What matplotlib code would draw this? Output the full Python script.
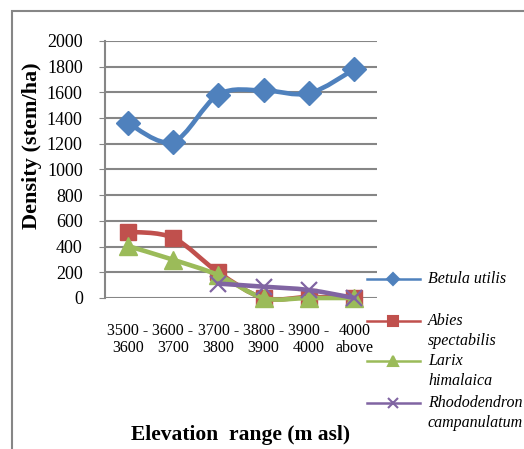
import numpy as np
import matplotlib
matplotlib.use("Agg")
import matplotlib.pyplot as plt
from matplotlib.path import Path
from matplotlib.patches import PathPatch, Rectangle
from matplotlib.lines import Line2D

plt.rcParams['font.family'] = ['Liberation Serif', 'DejaVu Serif']

elevation = ["3500 -\n3600", "3600 -\n3700", "3700 -\n3800",
             "3800 -\n3900", "3900 -\n4000", "4000\nabove"]
betula = [1362, 1215, 1582, 1615, 1593, 1780]
abies = [515, 468, 200, 0, 8, 0]
larix = [405, 298, 178, 0, 0, 0]
rhodo = [None, None, 112, 88, 62, 0]

series = [
    ("Betula utilis", betula, "#4F81BD", "D", 12),
    ("Abies\nspectabilis", abies, "#C0504D", "s", 11),
    ("Larix\nhimalaica", larix, "#9BBB59", "^", 13),
    ("Rhododendron\ncampanulatum", rhodo, "#8064A2", "x", 11),
]

W, H = 524, 449
fig = plt.figure(figsize=(W / 100, H / 100), dpi=100)
ax = fig.add_axes([105 / W, 1 - 298 / H, 272 / W, 257 / H])


def smooth_path(xs, ys):
    # cubic bezier through the points, like a spreadsheet "smoothed line"
    pts = np.column_stack([xs, ys]).astype(float)
    n = len(pts)
    verts = [pts[0]]
    codes = [Path.MOVETO]
    for i in range(n - 1):
        p0 = pts[max(i - 1, 0)]
        p1 = pts[i]
        p2 = pts[i + 1]
        p3 = pts[min(i + 2, n - 1)]
        c1 = p1 + (p2 - p0) / 6
        c2 = p2 - (p3 - p1) / 6
        verts += [c1, c2, p2]
        codes += [Path.CURVE4] * 3
    return Path(verts, codes)


x = np.arange(len(elevation))
for k, (name, vals, col, mk, ms) in enumerate(series):
    xs = [xi for xi, v in zip(x, vals) if v is not None]
    ys = [v for v in vals if v is not None]
    patch = PathPatch(smooth_path(xs, ys), fill=False, edgecolor=col, lw=3.3,
                      capstyle='round', joinstyle='round', zorder=3 + 2 * k,
                      clip_on=False)
    ax.add_patch(patch)
    if mk == "x":
        ax.plot(xs, ys, linestyle='none', marker=mk, ms=ms, mew=1.6,
                color=col, zorder=4 + 2 * k, clip_on=False)
    else:
        ax.plot(xs, ys, linestyle='none', marker=mk, ms=ms, color=col,
                mec=col, zorder=4 + 2 * k, clip_on=False)

ax.set_xlim(-0.5, 5.5)
ax.set_ylim(0, 2000)
ax.set_yticks(np.arange(0, 2001, 200))
ax.set_xticks(x)
ax.set_xticklabels(elevation, fontsize=11.5, linespacing=1.1)
ax.tick_params(axis='x', length=0, pad=18)
ax.tick_params(axis='y', length=4, color='#868686', labelsize=13, pad=12)
ax.yaxis.grid(True, color='#868686', lw=1.5)
ax.set_axisbelow(True)
for s in ['top', 'right', 'bottom']:
    ax.spines[s].set_visible(False)
ax.spines['left'].set_color('#868686')
ax.spines['left'].set_linewidth(1.5)

fig.text(32 / W, 1 - 146 / H, "Density (stem/ha)", rotation=90,
         fontsize=16, fontweight='bold', ha='center', va='center')
fig.text(241 / W, 1 - 435 / H, "Elevation  range (m asl)",
         fontsize=15.5, fontweight='bold', ha='center', va='center')

# legend drawn by hand so the handle sits on the first text line
leg_y = [279, 321, 361, 403]
for (name, vals, col, mk, ms), yy in zip(series, leg_y):
    fy = 1 - yy / H
    fig.add_artist(Line2D([367 / W, 420 / W], [fy, fy], color=col, lw=1.8,
                          transform=fig.transFigure))
    fig.add_artist(Line2D([393 / W], [fy], color=col, marker=mk, ms=6.5,
                          mew=1.5, transform=fig.transFigure))
    fig.text(428 / W, fy + 8 / H, name, fontsize=11.5, style='italic',
             ha='left', va='top', linespacing=1.35,
             transform=fig.transFigure)

fig.patches.append(Rectangle((12 / W, -0.1), 1.2, 1.1 - 11 / H, fill=False,
                             edgecolor='#868686', lw=1.5,
                             transform=fig.transFigure, figure=fig))

fig.savefig("out.png", dpi=100)
